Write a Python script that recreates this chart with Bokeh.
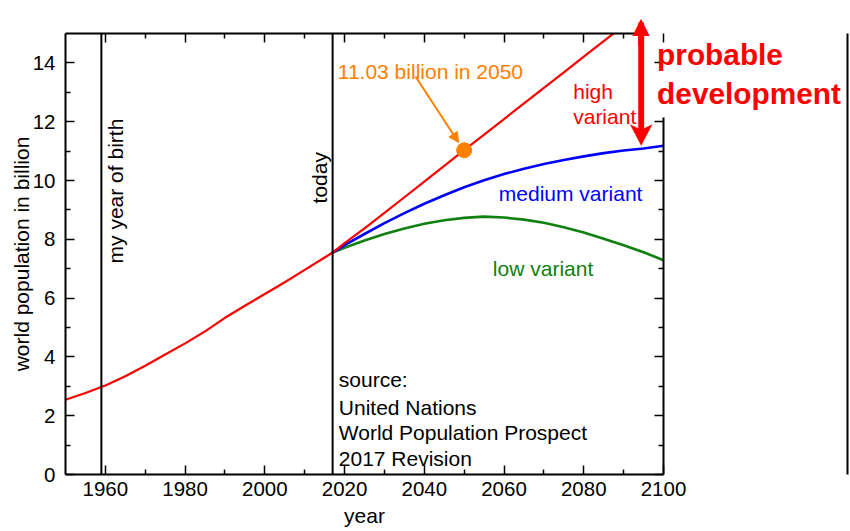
from bokeh.plotting import figure
from bokeh.models import (LinearAxis, FixedTicker, Span, Label, Arrow, NormalHead,
                          Range1d, CustomJSTickFormatter, PolyAnnotation)
from bokeh.embed import file_html
from bokeh.resources import INLINE

# ---------------- data ----------------
years_hist = [1950, 1955, 1960, 1965, 1970, 1975, 1980, 1985, 1990, 1995,
              2000, 2005, 2010, 2015, 2017]
pop_hist = [2.54, 2.77, 3.03, 3.34, 3.70, 4.08, 4.46, 4.87, 5.33, 5.74,
            6.14, 6.54, 6.96, 7.38, 7.55]

years_proj = [2017, 2020, 2025, 2030, 2035, 2040, 2045, 2050, 2055, 2060,
              2065, 2070, 2075, 2080, 2085, 2090, 2095, 2100]
pop_high = [7.55, 7.87, 8.37, 8.90, 9.43, 9.96, 10.50, 11.03, 11.56, 12.09,
            12.62, 13.15, 13.68, 14.21, 14.74, 15.27, 15.79, 16.31]
pop_medium = [7.55, 7.80, 8.18, 8.55, 8.89, 9.21, 9.50, 9.77, 10.01, 10.22,
              10.40, 10.56, 10.70, 10.82, 10.93, 11.02, 11.09, 11.18]
pop_low = [7.55, 7.71, 7.96, 8.18, 8.37, 8.53, 8.65, 8.73, 8.77, 8.74,
           8.67, 8.56, 8.41, 8.23, 8.02, 7.80, 7.56, 7.29]

highlight_year = [2050]
highlight_value = [11.03]

birth_year = 1959
today_year = 2017

x_major_ticks = [1960, 1980, 2000, 2020, 2040, 2060, 2080, 2100]
x_minor_ticks = [1970, 1990, 2010, 2030, 2050, 2070, 2090]
y_major_ticks = [0, 2, 4, 6, 8, 10, 12, 14]
y_minor_ticks = [1, 3, 5, 7, 9, 11, 13]

source_lines = ["source:", "United Nations", "World Population Prospect", "2017 Revision"]

# ---------------- style ----------------
FONT = "Liberation Sans"
TICK_FS = "20.5px"
TXT_FS = "21px"
RED = "#ff0000"
BLUE = "#0000ff"
GREEN = "#108010"
ORANGE = "#ff8000"

p = figure(width=850, height=531,
           x_range=Range1d(1950, 2100), y_range=Range1d(0, 15),
           output_backend="svg", toolbar_location=None,
           min_border_left=65, min_border_right=187,
           min_border_top=33, min_border_bottom=57)
p.outline_line_color = None
p.grid.visible = False
p.background_fill_color = "white"
p.border_fill_color = "white"

# pixel -> data conversion factors (frame 598 x 441 px)
PX_X = 150 / 598.0
PX_Y = 15 / 441.0


def style_axis(ax, ticks, minor):
    ax.ticker = FixedTicker(ticks=ticks, minor_ticks=minor)
    ax.axis_line_width = 2
    ax.axis_line_color = "black"
    ax.major_tick_in = 9
    ax.major_tick_out = 0
    ax.minor_tick_in = 5
    ax.minor_tick_out = 0
    ax.major_tick_line_width = 1.5
    ax.minor_tick_line_width = 1.5
    ax.major_tick_line_color = "black"
    ax.minor_tick_line_color = "black"
    ax.major_label_text_font = FONT
    ax.major_label_text_font_size = TICK_FS
    ax.major_label_text_color = "black"
    ax.axis_label_text_font = FONT
    ax.axis_label_text_font_size = TXT_FS
    ax.axis_label_text_font_style = "normal"
    ax.axis_label_text_color = "black"


xa = p.xaxis[0]
style_axis(xa, x_major_ticks, x_minor_ticks)
xa.major_label_standoff = 7
xa.axis_label = "year"
xa.axis_label_standoff = 5

ya = p.yaxis[0]
style_axis(ya, y_major_ticks, y_minor_ticks)
ya.major_label_standoff = 10
ya.axis_label = "world population in billion"
ya.axis_label_standoff = -3

blank = CustomJSTickFormatter(code="return ''")

top_axis = LinearAxis()
style_axis(top_axis, x_major_ticks, x_minor_ticks)
top_axis.bounds = (1950, 2095.6)
top_axis.formatter = blank
top_axis.major_label_standoff = 0
p.add_layout(top_axis, "above")

right_axis = LinearAxis()
style_axis(right_axis, y_major_ticks, y_minor_ticks)
right_axis.bounds = (0, 12.15)
right_axis.formatter = blank
right_axis.major_label_standoff = 0
p.add_layout(right_axis, "right")

# vertical marker lines
for yr in (birth_year, today_year):
    p.add_layout(Span(location=yr, dimension="height", line_color="black", line_width=2))

# curves
p.line(years_proj, pop_low, line_color=GREEN, line_width=2.6)
p.line(years_proj, pop_medium, line_color=BLUE, line_width=2.6)
p.line(years_hist, pop_hist, line_color=RED, line_width=2.2)
p.line(years_proj, pop_high, line_color=RED, line_width=2.2)

# highlighted point
p.scatter(highlight_year, highlight_value, size=15, fill_color=ORANGE, line_color=ORANGE)
p.add_layout(Arrow(end=NormalHead(size=10, fill_color=ORANGE, line_color=ORANGE),
                   start=None, x_start=2037.8, y_start=13.54, x_end=2048.6, y_end=11.29,
                   line_color=ORANGE, line_width=2))
p.add_layout(Label(x=2018.3, y=13.72,
                   text=f"{highlight_value[0]:.2f} billion in {highlight_year[0]}",
                   text_font=FONT, text_font_size=TXT_FS, text_color=ORANGE,
                   text_baseline="alphabetic", text_align="left"))


def lab(x, y, t, color, size=TXT_FS, style="normal", angle=0.0, align="left", place="center"):
    p.add_layout(Label(x=x, y=y, text=t, text_font=FONT, text_font_size=size,
                       text_color=color, text_font_style=style, angle=angle,
                       text_baseline="alphabetic", text_align=align), place)


lab(2077.35, 13.04, "high", RED)
lab(2077.35, 12.18, "variant", RED)
lab(2058.7, 9.55, "medium variant", BLUE)
lab(2057.2, 7.00, "low variant", GREEN)

# probable development: double arrow (shaft + lower head inside the frame) ...
AX = 2094.4          # arrow x (year)
A_TOP = 15.0         # shaft reaches the frame top
A_BOT = 11.19        # bottom tip
HEAD_BASE = 15.27    # base of the upper head (above the frame)
hw = 11 * PX_X       # head half width
sw = 2.85 * PX_X     # shaft half width
hl = 21 * PX_Y       # head length
hn = 17 * PX_Y       # head notch
arrow_xs = [AX + sw, AX + sw, AX + hw, AX, AX - hw, AX - sw, AX - sw]
arrow_ys = [A_TOP + 0.1, A_BOT + hn, A_BOT + hl, A_BOT, A_BOT + hl, A_BOT + hn, A_TOP + 0.1]
p.add_layout(PolyAnnotation(xs=arrow_xs, ys=arrow_ys, fill_color=RED, fill_alpha=1.0,
                            line_color=RED, line_width=1))
# ... upper head above the frame, drawn as a triangle character in the top panel
p.add_layout(Label(x=AX, y=HEAD_BASE, text="\u25B2", text_font=FONT,
                   text_font_size="29.5px", text_color=RED,
                   text_baseline="alphabetic", text_align="center"), "above")
# ... and the short piece of shaft between that head and the frame top
p.add_layout(Label(x=AX, y=HEAD_BASE + 3 * PX_Y, text=" ", text_font=FONT,
                   text_font_size="20.5px", text_color=RED,
                   background_fill_color=RED, background_fill_alpha=1.0,
                   text_baseline="top", text_align="center"), "left")

# text in the right panel (not clipped by the frame)
p.add_layout(Label(x=2098.4, y=14.84, text="probable\ndevelopment",
                   text_font=FONT, text_font_size="29.8px", text_font_style="bold",
                   text_color=RED, text_baseline="top", text_align="left",
                   text_line_height=1.17), "right")

# page border line on the far right (an unlabeled axis placed after the text panel)
border_axis = LinearAxis(ticker=FixedTicker(ticks=[]), formatter=blank,
                         bounds=(-5, 20), axis_line_width=2, axis_line_color="black",
                         major_tick_in=0, major_tick_out=0, minor_tick_in=0, minor_tick_out=0,
                         major_label_standoff=0)
p.add_layout(border_axis, "right")

# vertical annotations
lab(1962.6, 7.18, "my year of birth", "black", angle=1.5708)
lab(2013.74, 9.22, "today", "black", angle=1.5708)

# source text
src_y = [3.22, 2.29, 1.418, 0.534]
for t, yy in zip(source_lines, src_y):
    lab(2018.55, yy, t, "black")

open("out.html", "w").write(file_html(p, INLINE))
